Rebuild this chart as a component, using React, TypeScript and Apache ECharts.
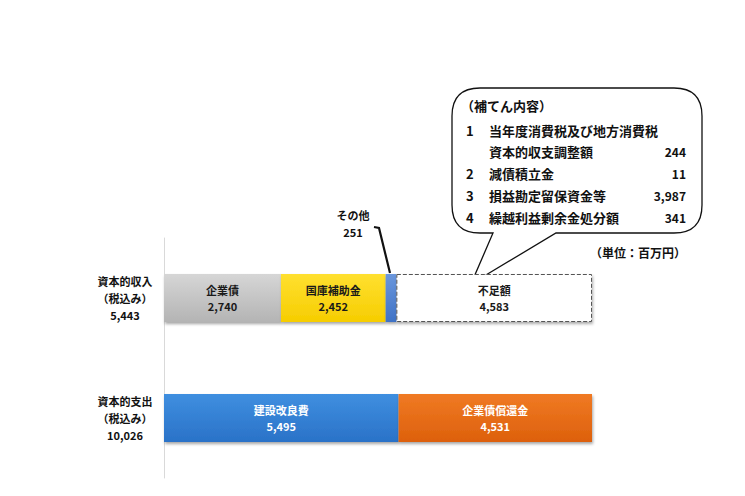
import React, { useEffect, useRef } from "react";
import * as echarts from "echarts";

// ---- data ----
const categories = ["資本的収入", "資本的支出"];
const categoryTotals = [5443, 10026];
const incomeNames = ["企業債", "国庫補助金", "その他", "不足額"];
const incomeValues = [2740, 2452, 251, 4583];
const expenseNames = ["建設改良費", "企業債償還金"];
const expenseValues = [5495, 4531];
const supplementTitle = "（補てん内容）";
const supplementNumbers = ["1", "", "2", "3", "4"];
const supplementLabels = [
  "当年度消費税及び地方消費税",
  "資本的収支調整額",
  "減債積立金",
  "損益勘定留保資金等",
  "繰越利益剰余金処分額",
];
const supplementValues: (number | null)[] = [null, 244, 11, 3987, 341];
const unitText = "（単位：百万円）";

const FONT = '"Noto Sans CJK JP", "Noto Sans", sans-serif';
const fmt = (v: number) => v.toLocaleString("en-US");

const grad = (top: string, bottom: string) =>
  new echarts.graphic.LinearGradient(0, 0, 0, 1, [
    { offset: 0, color: top },
    { offset: 1, color: bottom },
  ]);

const incomeStyles = [
  { color: grad("#d6d6d6", "#b4b4b4"), text: "#1a1a1a" },
  { color: grad("#ffe030", "#f6cd00"), text: "#1a1a1a" },
  { color: grad("#6b97dc", "#3f72c6"), text: "#1a1a1a" },
  { color: "#ffffff", text: "#1a1a1a", dashed: true },
];
const expenseStyles = [
  { color: grad("#3f8fe0", "#2a72c8"), text: "#ffffff" },
  { color: grad("#f07a24", "#dd600c"), text: "#ffffff" },
];

const shadow = {
  shadowColor: "rgba(0,0,0,0.35)",
  shadowBlur: 3,
  shadowOffsetX: 1,
  shadowOffsetY: 2,
};

export default function App() {
  const ref = useRef<HTMLDivElement>(null);
  useEffect(() => {
    if (!ref.current) return;
    const chart = echarts.init(ref.current, null, { renderer: "svg" });

    const labelFor = (color: string, show = true) => ({
      show,
      position: "inside",
      color,
      fontFamily: FONT,
      fontWeight: "bold",
      fontSize: 11,
      lineHeight: 16,
      formatter: (p: any) => p.seriesName + "\n" + fmt(p.value),
    });

    const series: any[] = [];
    incomeNames.forEach((name, i) => {
      const st: any = incomeStyles[i];
      series.push({
        type: "bar",
        name,
        stack: "total",
        barWidth: 48,
        data: [incomeValues[i], "-"],
        itemStyle: {
          color: st.color,
          borderColor: st.dashed ? "#555555" : "transparent",
          borderWidth: st.dashed ? 1 : 0,
          borderType: st.dashed ? "dashed" : "solid",
          ...shadow,
        },
        label: labelFor(st.text, name !== "その他"),
      });
    });
    expenseNames.forEach((name, i) => {
      const st: any = expenseStyles[i];
      series.push({
        type: "bar",
        name,
        stack: "total",
        barWidth: 48,
        data: ["-", expenseValues[i]],
        itemStyle: { color: st.color, ...shadow },
        label: labelFor(st.text),
      });
    });

    const bubbleD =
      "M 480 88 H 674 Q 702 88 702 116 V 205 Q 702 233 674 233 H 556 L 471 284 L 493 233 H 480 Q 452 233 452 205 V 116 Q 452 88 480 88 Z";
    echarts.graphic.registerShape(
      "bubble",
      echarts.graphic.extendPath(bubbleD, {}) as any
    );

    const txt = (x: number, y: number, text: string, size: number, align = "left") => ({
      type: "text",
      x,
      y,
      style: {
        text,
        font: `bold ${size}px ${FONT}`,
        fill: "#111",
        textAlign: align,
        textVerticalAlign: "middle",
      },
    });

    const bubbleTexts: any[] = [txt(461, 105, supplementTitle, 13)];
    const lineYs = [130, 151, 173, 195, 217];
    supplementLabels.forEach((lbl, i) => {
      const y = lineYs[i];
      if (supplementNumbers[i]) bubbleTexts.push(txt(466, y, supplementNumbers[i], 13));
      bubbleTexts.push(txt(489, y, lbl, 13));
      const v = supplementValues[i];
      if (v !== null) bubbleTexts.push(txt(686, y, fmt(v), 12, "right"));
    });

    const baseGraphics: any[] = [
      {
        type: "bubble",
        x: 0,
        y: 0,
        style: { fill: "#ffffff", stroke: "#111111", lineWidth: 1.3 },
      },
      ...bubbleTexts,
      txt(686, 252, unitText, 12, "right"),
    ];

    chart.setOption({
      animation: false,
      grid: { left: 164, right: 153, top: 238, bottom: 18 },
      xAxis: {
        type: "value",
        min: 0,
        max: categoryTotals[1],
        show: false,
      },
      yAxis: {
        type: "category",
        data: categories,
        inverse: true,
        axisLine: { show: true, lineStyle: { color: "#d9d9d9", width: 1 } },
        axisTick: { show: false },
        axisLabel: {
          margin: 39,
          align: "center",
          color: "#111",
          fontFamily: FONT,
          fontWeight: "bold",
          fontSize: 11,
          lineHeight: 17,
          formatter: (v: string) => {
            const i = categories.indexOf(v);
            return v + "\n（税込み）\n" + fmt(categoryTotals[i]);
          },
        },
      },
      series,
      graphic: baseGraphics,
    });

    // callout for the small "その他" segment, positioned via the chart's scales
    const otherStart = incomeValues[0] + incomeValues[1];
    const cx = chart.convertToPixel({ xAxisIndex: 0 }, otherStart + incomeValues[2] / 2) as number;
    const cy = chart.convertToPixel({ yAxisIndex: 0 }, categories[0]) as number;
    const barTop = cy - 24;
    chart.setOption({
      graphic: [
        ...baseGraphics,
        {
          type: "polyline",
          shape: {
            points: [
              [cx - 17, barTop - 47],
              [cx - 12, barTop - 46],
              [cx - 1, barTop - 1],
            ],
          },
          style: { stroke: "#111", lineWidth: 2.2, fill: "none" },
        },
        {
          type: "text",
          x: cx - 38,
          y: barTop - 51,
          style: {
            text: incomeNames[2] + "\n" + fmt(incomeValues[2]),
            font: `bold 11px ${FONT}`,
            lineHeight: 17,
            fill: "#111",
            textAlign: "center",
            textVerticalAlign: "middle",
          },
        },
      ],
    });

    return () => chart.dispose();
  }, []);

  return <div ref={ref} style={{ width: 745, height: 496, position: "absolute", left: 0, top: 0 }} />;
}
